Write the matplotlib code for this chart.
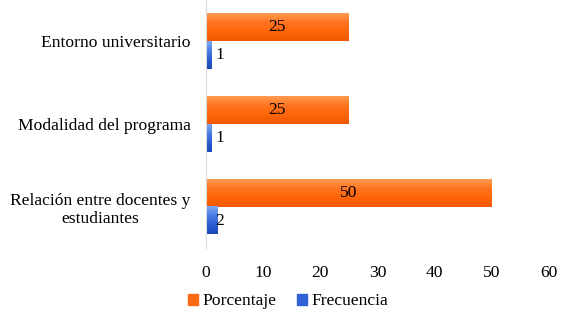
import matplotlib
matplotlib.use("Agg")
import matplotlib.pyplot as plt
from matplotlib.colors import LinearSegmentedColormap
import numpy as np

categories = ["Relación entre docentes y\nestudiantes", "Modalidad del programa", "Entorno universitario"]
porcentaje = [50, 25, 25]
frecuencia = [2, 1, 1]
xticks = [0, 10, 20, 30, 40, 50, 60]

plt.rcParams['font.family'] = ['Liberation Serif', 'DejaVu Serif']
FS = 12.6

fig = plt.figure(figsize=(5.7, 3.18), dpi=100)
ax = fig.add_axes([0.361, 0.22, 0.602, 0.78])

y = np.arange(len(categories))
h = 0.335
orange = "#FF6A12"
blue = "#2F62D6"
cmap_o = LinearSegmentedColormap.from_list("o", ["#FF9A50", "#FF7420", "#FF6508", "#F05800"])
cmap_b = LinearSegmentedColormap.from_list("b", ["#80A8F4", "#4A7CE4", "#2A5CD0", "#1A48B8"])
b1 = ax.barh(y + h / 2, porcentaje, height=h, color=orange, label="Porcentaje")
b2 = ax.barh(y - h / 2, frecuencia, height=h, color=blue, label="Frecuencia")

grad = np.linspace(0, 1, 64).reshape(-1, 1)
for bars, cm in ((b1, cmap_o), (b2, cmap_b)):
    for r in bars:
        x0, y0 = r.get_x(), r.get_y()
        w, hh = r.get_width(), r.get_height()
        r.set_alpha(0)
        ax.imshow(grad, cmap=cm, aspect="auto", extent=(x0, x0 + w, y0, y0 + hh),
                  origin="upper", zorder=2, interpolation="bilinear")

for yi, v in zip(y, porcentaje):
    ax.text(v / 2, yi + h / 2, str(v), ha="center", va="center", fontsize=FS, zorder=3)
for yi, v in zip(y, frecuencia):
    ax.annotate(str(v), xy=(0, yi - h / 2), xytext=(7, 0), textcoords="offset points",
                ha="left", va="center", fontsize=FS, zorder=3)

ax.set_xlim(0, 60)
ax.set_ylim(-0.5, 2.5)
ax.set_xticks(xticks)
ax.set_yticks(y)
ax.set_yticklabels(categories, multialignment="center")
ax.tick_params(axis="both", length=0, labelsize=FS)
ax.tick_params(axis="y", pad=11)
ax.tick_params(axis="x", pad=12)
for s in ["top", "right", "bottom"]:
    ax.spines[s].set_visible(False)
ax.spines["left"].set_color("#D9D9D9")

handles = [b1, b2]
leg = fig.legend([plt.Rectangle((0, 0), 1, 1, color=orange), plt.Rectangle((0, 0), 1, 1, color=blue)],
                 ["Porcentaje", "Frecuencia"], loc="center", bbox_to_anchor=(0.505, 0.052),
                 ncol=2, frameon=False, fontsize=FS, handlelength=0.6, handleheight=0.6,
                 handletextpad=0.2, columnspacing=1.2)

fig.savefig("out.png", dpi=100)
